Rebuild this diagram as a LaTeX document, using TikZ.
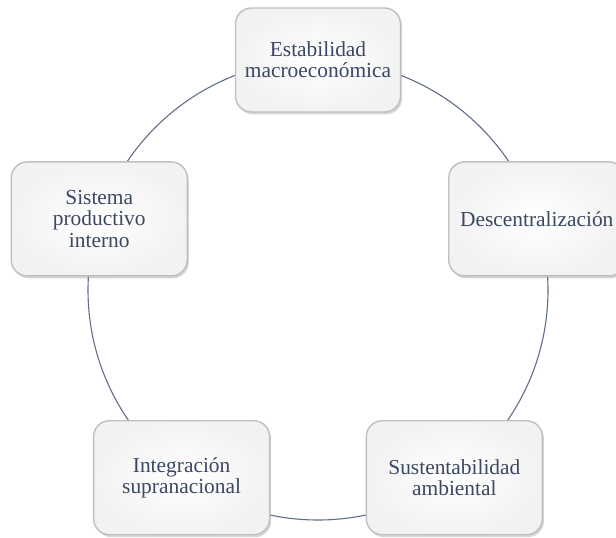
\documentclass[tikz,border=0pt]{standalone}
\usepackage{fontspec}
\setmainfont{Liberation Serif}
\usetikzlibrary{shadows}
\definecolor{textslate}{RGB}{59,72,99}
\definecolor{ringslate}{RGB}{96,110,136}
\tikzset{
	cyclebox/.style={rounded corners=8pt, draw=gray!50, line width=0.7pt,
		inner color=white, outer color=gray!10,
		drop shadow={shadow xshift=0.8pt, shadow yshift=-1.2pt, opacity=0.4, fill=gray!80},
		minimum width=88pt, minimum height=57pt, align=center, text=textslate,
		font=\fontsize{10.7}{10.6}\selectfont},
	ring/.style={draw=ringslate, line width=0.55pt}
}

\begin{document}
\begin{tikzpicture}[x=0.5pt, y=0.5pt]
		%%%%% START %%%%%
		\useasboundingbox (0, 0) rectangle (616, -537);
		
		\coordinate (hub) at (318, -290);
		\draw[ring] (hub) circle (230);
		
		\node[cyclebox, minimum width=82.5pt, minimum height=52pt] (estab) at ([shift={(90:230)}]hub) {Estabilidad\\macroeconómica};
		\node[cyclebox] (desc) at ([shift={(18:230)}]hub) {Descentralización};
		\node[cyclebox] (sust) at ([shift={(-54:232)}]hub) {Sustentabilidad\\ambiental};
		\node[cyclebox] (integ) at ([shift={(-126:232)}]hub) {Integración\\supranacional};
		\node[cyclebox] (sist) at ([shift={(162:230)}]hub) {Sistema\\productivo\\interno};
		%%%%% END %%%%%
	\end{tikzpicture}
\end{document}
